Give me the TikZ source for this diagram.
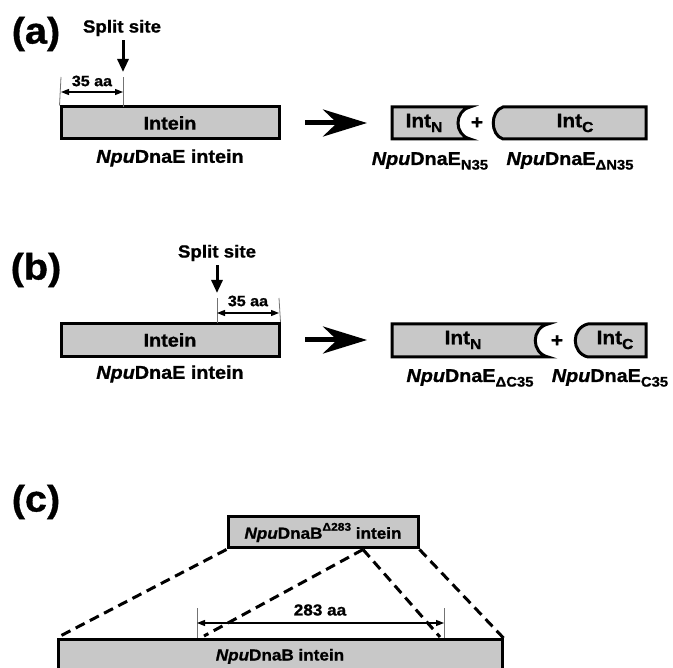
\documentclass[tikz,border=0pt]{standalone}
\usepackage{fontspec}
\setmainfont{Liberation Sans}[FakeStretch=1.07, BoldFeatures={FakeBold=1}, BoldItalicFeatures={FakeBold=1}]
\usetikzlibrary{arrows.meta,positioning}
\definecolor{boxgray}{RGB}{200,200,200}
\newcommand\lowsub[1]{\raisebox{-0.25em}{\scalebox{0.75}{#1}}}
\newcommand\highsup[1]{\raisebox{0.5em}{\scalebox{0.7}{#1}}}
\tikzset{
  box/.style={draw, line width=3pt, fill=boxgray, inner sep=0pt, font=\bfseries\fontsize{18.5}{18.5}\selectfont},
  piece/.style={draw, line width=3pt, fill=boxgray, line join=miter},
  inttxt/.style={inner sep=0pt, font=\bfseries\fontsize{19.5}{19.5}\selectfont},
  panel/.style={inner sep=0pt, font=\bfseries\fontsize{37}{37}\selectfont},
  sitelbl/.style={inner sep=0pt, font=\bfseries\fontsize{17.5}{17.5}\selectfont},
  dimlbl/.style={inner sep=0pt, font=\bfseries\fontsize{15}{15}\selectfont},
  lbl/.style={inner sep=0pt, font=\bfseries\fontsize{18.5}{18.5}\selectfont},
  tick/.style={line width=0.8pt, black!55},
  dimarr/.style={line width=1.3pt, {Triangle[length=8pt,width=6pt]}-{Triangle[length=8pt,width=6pt]}},
  splitarr/.style={line width=3pt, -{Triangle[length=13pt,width=11pt]}},
  bigarr/.style={line width=5pt, -{Stealth[length=44pt,width=27pt,inset=14pt]}},
  dashln/.style={line width=3pt, dash pattern=on 10pt off 6pt}
}
\begin{document}
\begin{tikzpicture}[x=1pt,y=-1pt]
  \useasboundingbox (0,0) rectangle (673,668);
  \clip (0,0) rectangle (673,668);
  % (a) split near the N-terminus
  \node[panel] (pa) at (36,34) {(a)};
  \node[box, minimum width=218pt, minimum height=32pt] (inta) at (170,123) {Intein};
  \node[lbl] (namea) at (170,158) {\textit{Npu}DnaE intein};
  \node[sitelbl] (sitea) at (122,28) {Split site};
  \coordinate (cuta) at (123,107);
  \coordinate (tipa) at (123,72);
  \draw[splitarr] (tipa |- sitea.south) ++(0,4) -- (tipa);
  \draw[tick] (inta.north west) -- (61,77);
  \draw[tick] (cuta) -- (123,77);
  \coordinate (da1) at (61,92);
  \coordinate (da2) at (123,92);
  \draw[dimarr] (da1) -- (da2);
  \node[dimlbl] (dima) at (92,81) {35 aa};
  \coordinate (arra1) at (305,123);
  \coordinate (arra2) at (367,123);
  \draw[bigarr] (arra1) -- (arra2);
  \draw[piece] (392,107) -- (470,107) .. controls (454,111) and (454,135) .. (470,139) -- (392,139) -- cycle;
  \draw[piece] (646,107) -- (503,107) .. controls (490,111) and (490,135) .. (503,139) -- (646,139) -- cycle;
  \node[inttxt] (intna) at (424,123) {Int\lowsub{N}};
  \node[inttxt] (plusa) at (477,123) {+};
  \node[inttxt] (intca) at (575,123) {Int\lowsub{C}};
  \node[lbl] (namena) at (430,161) {\textit{Npu}DnaE\lowsub{N35}};
  \node[lbl] (nameca) at (570,161) {\textit{Npu}DnaE\lowsub{ΔN35}};

  % (b) split near the C-terminus
  \node[panel] (pb) at (36,270) {(b)};
  \node[box, minimum width=218pt, minimum height=33pt] (intb) at (170,340) {Intein};
  \node[lbl] (nameb) at (170,374) {\textit{Npu}DnaE intein};
  \node[sitelbl] (siteb) at (217,253) {Split site};
  \coordinate (cutb) at (217,323);
  \coordinate (tipb) at (217,293);
  \draw[splitarr] (tipb |- siteb.south) ++(0,4) -- (tipb);
  \draw[tick] (cutb) -- (217,298);
  \draw[tick] (intb.north east) -- (279,298);
  \coordinate (db1) at (217,313);
  \coordinate (db2) at (279,313);
  \draw[dimarr] (db1) -- (db2);
  \node[dimlbl] (dimb) at (248,301) {35 aa};
  \coordinate (arrb1) at (305,340);
  \coordinate (arrb2) at (367,340);
  \draw[bigarr] (arrb1) -- (arrb2);
  \draw[piece] (392,324) -- (548,324) .. controls (531,328) and (531,353) .. (548,357) -- (392,357) -- cycle;
  \draw[piece] (646,324) -- (588,324) .. controls (571,328) and (571,353) .. (588,357) -- (646,357) -- cycle;
  \node[inttxt] (intnb) at (463,340) {Int\lowsub{N}};
  \node[inttxt] (plusb) at (557,341) {+};
  \node[inttxt] (intcb) at (615,340) {Int\lowsub{C}};
  \node[lbl] (namenb) at (470,378) {\textit{Npu}DnaE\lowsub{ΔC35}};
  \node[lbl] (namecb) at (610,378) {\textit{Npu}DnaE\lowsub{C35}};

  % (c) deletion of 283 aa
  \node[panel] (pc) at (36,502) {(c)};
  \node[box, font=\bfseries\fontsize{16}{16}\selectfont, minimum width=190pt, minimum height=31pt] (dnabmini) at (323,532.5) {\textit{Npu}DnaB\highsup{Δ283} intein};
  \node[box, font=\bfseries\fontsize{16}{16}\selectfont, anchor=north, minimum width=444pt, text height=21pt, text depth=40pt, inner ysep=0pt] (dnab) at (280,638) {\textit{Npu}DnaB intein};
  \coordinate (apex) at ([xshift=40pt]dnabmini.south);
  \coordinate (delL) at (204,636);
  \coordinate (delR) at (440,637);
  \draw[dashln] (dnabmini.south west) -- (dnab.north west);
  \draw[dashln] (dnabmini.south east) -- (dnab.north east);
  \draw[dashln] (apex) -- (delL);
  \draw[dashln] (apex) -- (delR);
  \draw[tick] (197,638) -- (197,608);
  \draw[tick] (444,638) -- (444,608);
  \coordinate (dc1) at (197,623);
  \coordinate (dc2) at (444,623);
  \draw[dimarr] (dc1) -- (dc2);
  \node[dimlbl, font=\bfseries\fontsize{16}{16}\selectfont] (dimc) at (320,610) {283 aa};
\end{tikzpicture}
\end{document}
